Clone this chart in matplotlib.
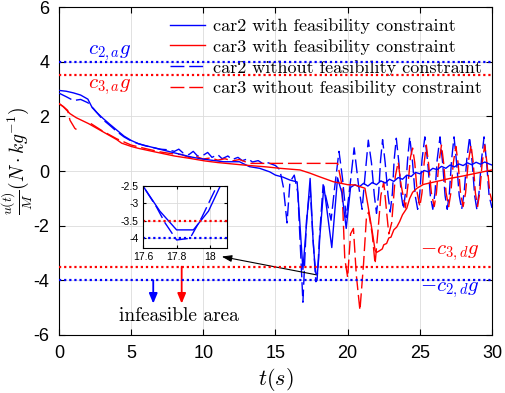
import numpy as np
import matplotlib
matplotlib.use("Agg")
import matplotlib.pyplot as plt

plt.rcParams['mathtext.fontset'] = 'cm'
plt.rcParams['axes.unicode_minus'] = False
plt.rcParams['font.family'] = 'Liberation Sans'

# car2 with feasibility constraint
b_t = [0, 0.5, 1.0, 1.5, 2.0, 2.3, 2.6, 3.0, 3.5, 4.0, 4.5, 5.0, 5.5, 6.0, 6.6, 7.5, 8.5, 9.1,
       9.8, 10.5, 11.4, 12.5, 13.2, 13.9, 14.6, 15.0, 15.5, 16.0, 16.5, 16.9, 17.4, 17.6, 17.7,
       17.8, 17.9, 17.99, 18.06, 18.35, 18.9, 19.3, 19.6, 19.9, 20.2, 20.5, 20.8, 21.1, 21.4,
       21.7, 22.0, 22.3, 22.6, 22.9, 23.2, 23.5, 23.8, 24.1, 24.4, 24.7, 25.0, 25.3, 25.6, 25.9,
       26.2, 26.5, 26.8, 27.1, 27.4, 27.7, 28.0, 28.3, 28.6, 28.9, 29.2, 29.5, 29.8, 30.0]
b_y = [2.95, 2.92, 2.86, 2.78, 2.63, 2.32, 2.15, 1.95, 1.72, 1.5, 1.28, 1.12, 1.0, 0.93, 0.85,
       0.73, 0.6, 0.52, 0.45, 0.4, 0.34, 0.34, 0.16, 0.1, -0.03, -0.15, -0.22, -0.33, -0.4, -3.6,
       -0.27, -2.5, -3.22, -3.76, -3.76, -3.22, -2.5, -0.55, -2.8, -0.25, -0.8, -2.1, -0.6, -0.5,
       -0.58, -0.45, -0.55, -0.42, -0.5, -0.36, -0.44, -0.3, -0.38, -0.24, -0.3, -0.15, -0.2,
       -0.05, -0.1, 0.02, -0.03, 0.1, 0.05, 0.17, 0.1, 0.22, 0.15, 0.26, 0.2, 0.3, 0.23, 0.32,
       0.25, 0.33, 0.26, 0.22]

# car3 with feasibility constraint
r_t = [0, 0.3, 0.76, 1.2, 2.03, 3.0, 4.0, 4.34, 5.0, 5.5, 6.65, 8.0, 9.1, 10.1, 11.0, 12.0, 13.0,
       14.4, 15.3, 16.7, 17.4, 18.0, 19.0, 20.0, 20.5, 21.2, 21.4, 21.7, 21.9, 22.0, 22.2, 22.4,
       22.5, 22.7, 22.85, 23.0, 23.2, 23.4, 23.6, 23.8, 24.1, 24.3, 24.5, 24.8, 25.25, 26.0, 27.1,
       28.0, 29.0, 30.0]
r_y = [2.47, 2.35, 2.1, 1.95, 1.74, 1.45, 1.15, 1.02, 0.9, 0.83, 0.7, 0.55, 0.46, 0.37, 0.31,
       0.26, 0.21, 0.15, 0.1, 0.04, -0.08, -0.2, -0.39, -0.5, -0.51, -0.63, -1.24, -2.2, -2.9,
       -2.98, -2.92, -2.85, -2.7, -2.65, -2.45, -2.42, -2.15, -2.05, -1.85, -1.6, -1.36, -1.0,
       -0.78, -0.63, -0.49, -0.4, -0.27, -0.18, -0.07, 0.04]

# car2 without feasibility constraint
bd_t = [0, 0.5, 1.0, 1.5, 2.0, 2.4, 3.0, 3.5, 4.0, 4.5, 5.0, 5.5, 6.0, 6.6, 7.0, 7.5, 8.0, 8.3,
        8.6, 9.0, 9.3, 9.6, 10.0, 10.3, 10.6, 11.0, 11.3, 11.7, 12.0, 12.4, 12.7, 13.1, 13.4,
        13.8, 14.1, 14.5, 15.0, 15.3, 15.55, 15.8, 16.0, 16.3, 16.55, 16.9, 17.15, 17.4, 17.6,
        17.68, 17.73, 17.8, 17.88, 17.95, 18.05, 18.3, 18.6, 18.85, 19.1, 19.4, 19.65, 19.9,
        20.15, 20.45, 20.75, 21.0, 21.2, 21.43, 21.65, 21.85, 22.0, 22.15, 22.28, 22.42, 22.6,
        22.8, 22.95, 23.1, 23.22, 23.37, 23.55, 23.72, 23.87, 24.0, 24.15, 24.3, 24.5, 24.68,
        24.85, 25.0, 25.15, 25.35, 25.55, 25.73, 25.9, 26.05, 26.2, 26.4, 26.58, 26.75, 26.9,
        27.05, 27.2, 27.37, 27.55, 27.73, 27.9, 28.07, 28.25, 28.45, 28.63, 28.8, 28.95, 29.1,
        29.27, 29.45, 29.63, 29.8, 30.0]
bd_y = [2.85, 2.72, 2.58, 2.62, 2.5, 2.28, 1.9, 1.68, 1.45, 1.25, 1.1, 1.0, 0.92, 0.85, 0.8,
        0.78, 0.72, 0.8, 0.66, 0.6, 0.72, 0.55, 0.58, 0.68, 0.5, 0.6, 0.45, 0.55, 0.42, 0.5,
        0.38, 0.45, 0.33, 0.38, 0.28, 0.3, 0.2, 0.05, -0.6, -1.9, -0.4, -0.15, -0.8, -4.8, -1.8,
        -0.6, -2.5, -3.1, -3.55, -4.05, -4.0, -3.4, -2.4, -0.5, -1.2, -1.8, -0.6, 0.72, -0.3,
        -1.7, -0.6, 0.85, -0.5, -1.4, -0.2, 1.13, 0.3, -0.9, -1.55, -0.8, 0.4, 1.15, 0.3, -0.9,
        -1.5, -0.8, 0.4, 1.2, 0.3, -0.9, -1.4, -0.8, 0.4, 1.25, 0.3, -0.9, -1.4, -0.8, 0.4,
        1.25, 0.3, -0.9, -1.4, -0.8, 0.4, 1.25, 0.3, -0.9, -1.4, -0.8, 0.4, 1.25, 0.3, -0.9,
        -1.4, -0.8, 0.4, 1.25, 0.3, -0.9, -1.4, -0.8, 0.4, 1.25, 0.3, -0.9, -1.35]

# car3 without feasibility constraint (nan = gap)
rd_t = [0, 0.3, 0.6, 0.76, 1.1, 1.46, np.nan, 2.2, 3.0, 4.0, 5.0, 6.0, 7.0, 8.0, 8.5, 9.0, 9.5,
        10.0, 10.5, 11.0, 11.5, 12.0, 12.5, 13.0, 13.3, 19.3, 19.6, 19.8, 20.0, 20.2, 20.4, 20.6,
        20.85, 21.1, 21.3, 21.45, 21.7, 21.9, 22.1, 22.3, 22.5, 22.7, 22.85, 23.05, 23.3, 23.5,
        23.7, 24.0, 24.2, 24.35, 24.5, 24.65, 24.82, 25.0, 25.15, 25.3, 25.45, 25.6, 25.8, 26.0,
        26.15, 26.32, 26.5, 26.65, 26.82, 27.0, 27.15, 27.32, 27.5, 27.65, 27.82, 28.0, 28.17,
        28.35, 28.55, 28.7, 28.85, 29.0, 29.15, 29.32, 29.5, 29.65, 29.85, 30.0]
rd_y = [2.47, 2.36, 2.22, 1.86, 1.56, 1.43, np.nan, 1.74, 1.47, 1.18, 0.95, 0.82, 0.7, 0.62,
        0.6, 0.5, 0.53, 0.44, 0.48, 0.4, 0.45, 0.37, 0.42, 0.32, 0.28, 0.28, -0.5, -3.2, -3.9,
        -2.3, -2.1, -3.8, -5.1, -3.4, -1.7, -1.5, -2.3, -3.4, -2.2, -0.9, -0.4, -1.5, -2.3, -1.9,
        -0.2, 0.33, -0.5, -1.35, -0.4, 0.5, 0.84, 0.3, -0.8, -1.3, -0.8, 0.3, 0.95, 0.3, -0.8,
        -1.3, -0.8, 0.3, 0.95, 0.3, -0.8, -1.3, -0.8, 0.3, 0.9, 0.3, -0.8, -1.3, -0.8, 0.3, 0.95,
        0.3, -0.8, -1.3, -0.8, 0.3, 0.95, 0.3, -0.8, -1.1]

c2a, c3a, c3d, c2d = 4.0, 3.5, -3.5, -4.0

labels = ['car2 with feasibility constraint', 'car3 with feasibility constraint',
          'car2 without feasibility constraint', 'car3 without feasibility constraint']

dash = (10, 3.5)
dots = (0, (1, 1.3))

fig = plt.figure(figsize=(5.06, 3.93), dpi=100)
ax = fig.add_axes([0.1166, 0.1476, 0.8557, 0.8344])

l1, = ax.plot(b_t, b_y, color='b', lw=1.0, zorder=4)
l2, = ax.plot(r_t, r_y, color='r', lw=1.0, zorder=4)
l3, = ax.plot(bd_t, bd_y, color='b', lw=1.0, dashes=dash, zorder=3)
l4, = ax.plot(rd_t, rd_y, color='r', lw=1.0, dashes=dash, zorder=3)

for v, c in [(c2a, 'b'), (c3a, 'r'), (c3d, 'r'), (c2d, 'b')]:
    ax.axhline(v, color=c, ls=dots, lw=1.6, zorder=5)

ax.text(2.0, 4.3, r'$c_{2,a}g$', color='b', fontsize=15, va='center')
ax.text(2.0, 3.07, r'$c_{3,a}g$', color='r', fontsize=15, va='center')
ax.text(25.0, -3.0, r'$-c_{3,d}g$', color='r', fontsize=15, va='center')
ax.text(25.0, -4.35, r'$-c_{2,d}g$', color='b', fontsize=15, va='center')

ax.annotate('', xy=(6.53, -4.85), xytext=(6.53, -4.0),
            arrowprops=dict(arrowstyle='-|>,head_length=0.6,head_width=0.25',
                            color='b', lw=1.3, shrinkA=0, shrinkB=0))
ax.annotate('', xy=(8.5, -4.85), xytext=(8.5, -3.5),
            arrowprops=dict(arrowstyle='-|>,head_length=0.6,head_width=0.25',
                            color='r', lw=1.3, shrinkA=0, shrinkB=0))
ax.text(8.28, -5.3, 'infeasible area', family='cmr10', fontsize=14,
        ha='center', va='center')
ax.annotate('', xy=(11.27, -3.13), xytext=(17.85, -3.8),
            arrowprops=dict(arrowstyle='-|>,head_length=0.6,head_width=0.2',
                            color='k', lw=0.8, shrinkA=0, shrinkB=0))

ax.set_xlim(0, 30)
ax.set_ylim(-6, 6)
ax.set_xticks(range(0, 31, 5))
ax.set_yticks(range(-6, 7, 2))
ax.tick_params(direction='in', labelsize=13, top=True, right=True, length=4, pad=7)
ax.grid(True, color='#dcdcdc', lw=0.6)
ax.set_axisbelow(True)
for s in ax.spines.values():
    s.set_linewidth(0.8)
ax.set_xlabel(r'$t(s)$', fontsize=16, labelpad=3)
ax.set_ylabel(r'$\frac{u(t)}{M}(N\cdot kg^{-1})$', fontsize=14)
ax.yaxis.set_label_coords(-0.056, 0.53)

leg = ax.legend([l1, l2, l3, l4], labels, frameon=False, loc='upper left',
                bbox_to_anchor=(170 / 506, 1 - 18 / 393), bbox_transform=fig.transFigure,
                prop={'family': 'cmr10', 'size': 13}, handlelength=1.95, handletextpad=0.45,
                labelspacing=0.28, borderpad=0, borderaxespad=0)
leg.set_zorder(2)

# inset
ins = fig.add_axes([143 / 506, 1 - 248 / 393, 84 / 506, 62 / 393])
ins.plot(b_t, b_y, color='b', lw=1.0)
ins.plot(bd_t, bd_y, color='b', lw=1.0, dashes=dash)
ins.axhline(c3d, color='r', ls=dots, lw=1.6)
ins.axhline(c2d, color='b', ls=dots, lw=1.6)
ins.set_xlim(17.6, 18.1)
ins.set_ylim(-4.28, -2.5)
ins.set_xticks([17.6, 17.8, 18])
ins.set_xticklabels(['17.6', '17.8', '18'])
ins.set_yticks([-4, -3.5, -3, -2.5])
ins.set_yticklabels(['-4', '-3.5', '-3', '-2.5'])
ins.tick_params(direction='in', labelsize=7.5, top=True, right=True, length=2, pad=3)
ins.grid(True, color='#dcdcdc', lw=0.6)
for s in ins.spines.values():
    s.set_linewidth(0.8)

fig.savefig('out.png', dpi=100)
